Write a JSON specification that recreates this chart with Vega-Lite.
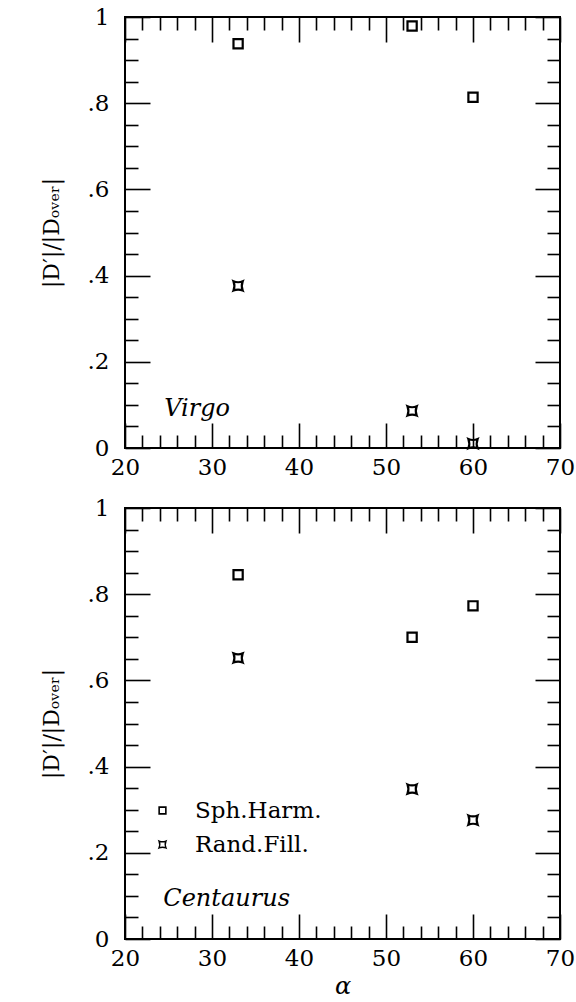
{
  "$schema": "https://vega.github.io/schema/vega-lite/v6.json",
  "background": "white",
  "padding": {"left": 39, "top": 5, "right": 5, "bottom": 5},
  "spacing": 16,
  "config": {
    "view": {"stroke": "black", "strokeWidth": 2},
    "font": "DejaVu Serif",
    "axis": {
      "grid": false,
      "domain": false,
      "tickColor": "black",
      "tickWidth": 1.6,
      "labelColor": "black",
      "titleColor": "black",
      "labelFont": "DejaVu Serif",
      "titleFont": "DejaVu Serif",
      "titleFontWeight": "normal",
      "labelFontSize": 23,
      "labelFlush": false,
      "labelOverlap": false
    },
    "legend": {
      "labelFont": "DejaVu Serif",
      "labelFontSize": 23,
      "labelColor": "black"
    }
  },
  "datasets": {
    "pts": [
      {"cluster": "Virgo", "method": "Sph.Harm.", "alpha": 33, "ratio": 0.938},
      {"cluster": "Virgo", "method": "Sph.Harm.", "alpha": 53, "ratio": 0.979},
      {"cluster": "Virgo", "method": "Sph.Harm.", "alpha": 60, "ratio": 0.814},
      {"cluster": "Virgo", "method": "Rand.Fill.", "alpha": 33, "ratio": 0.376},
      {"cluster": "Virgo", "method": "Rand.Fill.", "alpha": 53, "ratio": 0.086},
      {"cluster": "Virgo", "method": "Rand.Fill.", "alpha": 60, "ratio": 0.01},
      {"cluster": "Centaurus", "method": "Sph.Harm.", "alpha": 33, "ratio": 0.845},
      {"cluster": "Centaurus", "method": "Sph.Harm.", "alpha": 53, "ratio": 0.70},
      {"cluster": "Centaurus", "method": "Sph.Harm.", "alpha": 60, "ratio": 0.773},
      {"cluster": "Centaurus", "method": "Rand.Fill.", "alpha": 33, "ratio": 0.652},
      {"cluster": "Centaurus", "method": "Rand.Fill.", "alpha": 53, "ratio": 0.348},
      {"cluster": "Centaurus", "method": "Rand.Fill.", "alpha": 60, "ratio": 0.276}
    ]
  },
  "resolve": {"scale": {"shape": "independent"}, "legend": {"shape": "independent"}},
  "vconcat": [
    {
      "width": 435,
      "height": 431,
      "resolve": {"axis": {"x": "independent", "y": "independent"}},
      "layer": [
        {
          "data": {"name": "pts"},
          "transform": [{"filter": "datum.cluster == 'Virgo'"}],
          "mark": {"type": "point", "filled": false, "strokeWidth": 2.2, "color": "black", "opacity": 1},
          "encoding": {
            "x": {"field": "alpha", "type": "quantitative", "scale": {"domain": [20, 70], "nice": false, "zero": false},
              "axis": {"orient": "bottom", "values": [20, 30, 40, 50, 60, 70], "tickSize": -25, "labelPadding": 33, "title": null}},
            "y": {"field": "ratio", "type": "quantitative", "scale": {"domain": [0, 1], "nice": false},
              "axis": {"orient": "left", "values": [0, 0.2, 0.4, 0.6, 0.8, 1], "tickSize": -25, "labelPadding": 41,
                "labelExpr": "datum.value == 0 ? '0' : datum.value == 1 ? '1' : '.' + round(datum.value * 10)",
                "title": "|D′|/|Dₒᵥₑᵣ|", "titleFontSize": 22, "titlePadding": 24}},
            "shape": {"field": "method", "type": "nominal",
              "scale": {"domain": ["Sph.Harm.", "Rand.Fill."], "range": ["square", "M-1,-1Q0,-0.6 1,-1Q0.6,0 1,1Q0,0.6 -1,1Q-0.6,0 -1,-1Z"]},
              "legend": null},
            "size": {"value": 85}
          }
        },
        {
          "data": {"values": [{"name": "Virgo"}]},
          "mark": {"type": "text", "font": "DejaVu Serif", "fontStyle": "italic", "fontSize": 24, "align": "left", "baseline": "alphabetic", "color": "black"},
          "encoding": {
            "x": {"datum": 24.5, "type": "quantitative", "scale": {"domain": [20, 70], "nice": false, "zero": false},
              "axis": {"orient": "bottom", "values": [22, 24, 26, 28, 32, 34, 36, 38, 42, 44, 46, 48, 52, 54, 56, 58, 62, 64, 66, 68], "tickSize": -13, "labels": false, "title": null}},
            "y": {"datum": 0.075, "type": "quantitative", "scale": {"domain": [0, 1], "nice": false},
              "axis": {"orient": "left", "values": [0.05, 0.1, 0.15, 0.25, 0.3, 0.35, 0.45, 0.5, 0.55, 0.65, 0.7, 0.75, 0.85, 0.9, 0.95], "tickSize": -13, "labels": false, "title": null}},
            "text": {"field": "name"}
          }
        },
        {
          "data": {"values": [{"name": "frame"}]},
          "mark": {"type": "point", "opacity": 0},
          "encoding": {
            "x": {"datum": 20, "type": "quantitative", "scale": {"domain": [20, 70], "nice": false, "zero": false},
              "axis": {"orient": "top", "values": [20, 30, 40, 50, 60, 70], "tickSize": -25, "labels": false, "title": null}},
            "y": {"datum": 0, "type": "quantitative", "scale": {"domain": [0, 1], "nice": false},
              "axis": {"orient": "right", "values": [0, 0.2, 0.4, 0.6, 0.8, 1], "tickSize": -25, "labels": false, "title": null}}
          }
        },
        {
          "data": {"values": [{"name": "frame"}]},
          "mark": {"type": "point", "opacity": 0},
          "encoding": {
            "x": {"datum": 20, "type": "quantitative", "scale": {"domain": [20, 70], "nice": false, "zero": false},
              "axis": {"orient": "top", "values": [22, 24, 26, 28, 32, 34, 36, 38, 42, 44, 46, 48, 52, 54, 56, 58, 62, 64, 66, 68], "tickSize": -13, "labels": false, "title": null}},
            "y": {"datum": 0, "type": "quantitative", "scale": {"domain": [0, 1], "nice": false},
              "axis": {"orient": "right", "values": [0.05, 0.1, 0.15, 0.25, 0.3, 0.35, 0.45, 0.5, 0.55, 0.65, 0.7, 0.75, 0.85, 0.9, 0.95], "tickSize": -13, "labels": false, "title": null}}
          }
        }
      ]
    },
    {
      "width": 435,
      "height": 431,
      "resolve": {"axis": {"x": "independent", "y": "independent"}},
      "layer": [
        {
          "data": {"name": "pts"},
          "transform": [{"filter": "datum.cluster == 'Centaurus'"}],
          "mark": {"type": "point", "filled": false, "strokeWidth": 2.2, "color": "black", "opacity": 1},
          "encoding": {
            "x": {"field": "alpha", "type": "quantitative", "scale": {"domain": [20, 70], "nice": false, "zero": false},
              "axis": {"orient": "bottom", "values": [20, 30, 40, 50, 60, 70], "tickSize": -25, "labelPadding": 33,
                "title": "α", "titleFontSize": 24, "titleFontStyle": "italic", "titlePadding": 4}},
            "y": {"field": "ratio", "type": "quantitative", "scale": {"domain": [0, 1], "nice": false},
              "axis": {"orient": "left", "values": [0, 0.2, 0.4, 0.6, 0.8, 1], "tickSize": -25, "labelPadding": 41,
                "labelExpr": "datum.value == 0 ? '0' : datum.value == 1 ? '1' : '.' + round(datum.value * 10)",
                "title": "|D′|/|Dₒᵥₑᵣ|", "titleFontSize": 22, "titlePadding": 24}},
            "shape": {"field": "method", "type": "nominal",
              "scale": {"domain": ["Sph.Harm.", "Rand.Fill."], "range": ["square", "M-1,-1Q0,-0.6 1,-1Q0.6,0 1,1Q0,0.6 -1,1Q-0.6,0 -1,-1Z"]},
              "legend": {"title": null, "orient": "none", "legendX": 26, "legendY": 291, "padding": 0,
                "symbolSize": 45, "symbolStrokeWidth": 1.6, "symbolStrokeColor": "black", "symbolFillColor": "transparent",
                "labelOffset": 21, "rowPadding": 10, "labelFontSize": 23}},
            "size": {"value": 85}
          }
        },
        {
          "data": {"values": [{"name": "Centaurus"}]},
          "mark": {"type": "text", "font": "DejaVu Serif", "fontStyle": "italic", "fontSize": 24, "align": "left", "baseline": "alphabetic", "color": "black"},
          "encoding": {
            "x": {"datum": 24.4, "type": "quantitative", "scale": {"domain": [20, 70], "nice": false, "zero": false},
              "axis": {"orient": "bottom", "values": [22, 24, 26, 28, 32, 34, 36, 38, 42, 44, 46, 48, 52, 54, 56, 58, 62, 64, 66, 68], "tickSize": -13, "labels": false, "title": null}},
            "y": {"datum": 0.077, "type": "quantitative", "scale": {"domain": [0, 1], "nice": false},
              "axis": {"orient": "left", "values": [0.05, 0.1, 0.15, 0.25, 0.3, 0.35, 0.45, 0.5, 0.55, 0.65, 0.7, 0.75, 0.85, 0.9, 0.95], "tickSize": -13, "labels": false, "title": null}},
            "text": {"field": "name"}
          }
        },
        {
          "data": {"values": [{"name": "frame"}]},
          "mark": {"type": "point", "opacity": 0},
          "encoding": {
            "x": {"datum": 20, "type": "quantitative", "scale": {"domain": [20, 70], "nice": false, "zero": false},
              "axis": {"orient": "top", "values": [20, 30, 40, 50, 60, 70], "tickSize": -25, "labels": false, "title": null}},
            "y": {"datum": 0, "type": "quantitative", "scale": {"domain": [0, 1], "nice": false},
              "axis": {"orient": "right", "values": [0, 0.2, 0.4, 0.6, 0.8, 1], "tickSize": -25, "labels": false, "title": null}}
          }
        },
        {
          "data": {"values": [{"name": "frame"}]},
          "mark": {"type": "point", "opacity": 0},
          "encoding": {
            "x": {"datum": 20, "type": "quantitative", "scale": {"domain": [20, 70], "nice": false, "zero": false},
              "axis": {"orient": "top", "values": [22, 24, 26, 28, 32, 34, 36, 38, 42, 44, 46, 48, 52, 54, 56, 58, 62, 64, 66, 68], "tickSize": -13, "labels": false, "title": null}},
            "y": {"datum": 0, "type": "quantitative", "scale": {"domain": [0, 1], "nice": false},
              "axis": {"orient": "right", "values": [0.05, 0.1, 0.15, 0.25, 0.3, 0.35, 0.45, 0.5, 0.55, 0.65, 0.7, 0.75, 0.85, 0.9, 0.95], "tickSize": -13, "labels": false, "title": null}}
          }
        }
      ]
    }
  ]
}
